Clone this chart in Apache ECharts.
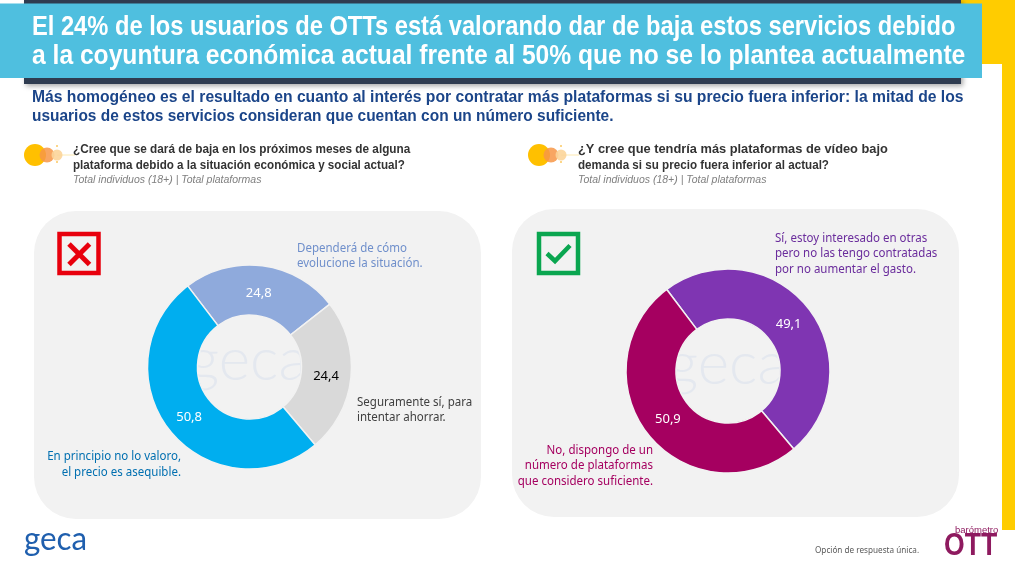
<!DOCTYPE html>
<html lang="es">
<head>
<meta charset="utf-8">
<title>Barómetro OTT</title>
<script src="https://cdn.jsdelivr.net/npm/echarts@6/dist/echarts.min.js"></script>
<style>
    html, body, #main { width: 100%; height: 100%; margin: 0; background: #fff; }
</style>
</head>
<body>
<div id="main"></div>
<script>
    var bajaNames = ['Dependerá de cómo evolucione la situación.', 'Seguramente sí, para intentar ahorrar.', 'En principio no lo valoro, el precio es asequible.'];
    var bajaValues = [24.8, 24.4, 50.8];
    var bajaColors = ['#8faadc', '#d9d9d9', '#00aeef'];
    var bajaLabelColors = ['#fff', '#000', '#fff'];

    var masNames = ['Sí, estoy interesado en otras pero no las tengo contratadas por no aumentar el gasto.', 'No, dispongo de un número de plataformas que considero suficiente.'];
    var masValues = [49.1, 50.9];
    var masColors = ['#7f35b2', '#a50060'];
    var masLabelColors = ['#fff', '#fff'];

    var font = '"Liberation Sans", Arial, sans-serif';
    var labelFont = '"Noto Sans", sans-serif';

    function makePie(names, values, colors, labelColors, labelOffsets, center, startAngle) {
        return {
            type: 'pie',
            center: center,
            radius: [52, 102],
            startAngle: startAngle,
            silent: true,
            animation: false,
            z: 5,
            itemStyle: { borderColor: '#f2f2f2', borderWidth: 1.5 },
            label: {
                position: 'inside',
                fontFamily: labelFont,
                fontSize: 13,
                formatter: function (p) { return String(p.value).replace('.', ','); }
            },
            labelLine: { show: false },
            data: names.map(function (n, i) {
                return {
                    name: n, value: values[i],
                    itemStyle: { color: colors[i] },
                    label: { color: labelColors[i], offset: labelOffsets[i] }
                };
            })
        };
    }

    // texto con ancho fijo: se comprime en horizontal con scaleX
    function txt(x, y, text, size, color, weight, scaleX, align, style) {
        return {
            type: 'text', x: x, y: y, scaleX: scaleX || 1, z: 20,
            style: {
                text: text, fill: color, fontFamily: font, fontSize: size,
                fontWeight: weight || 'normal', fontStyle: style || 'normal',
                align: align || 'left', verticalAlign: 'middle'
            }
        };
    }
    function lbl(x, y, text, color, align) {
        var t = txt(x, y, text, 12, color, 'normal', 0.96, align);
        t.style.fontFamily = labelFont;
        return t;
    }
    function box(x, y, w, h, color, r) {
        return { type: 'rect', z: 1, shape: { x: x, y: y, width: w, height: h, r: r || 0 }, style: { fill: color } };
    }
    function bulb(cx, cy) {
        return [
            { type: 'line', z: 3, shape: { x1: cx + 22, y1: cy, x2: cx + 40, y2: cy }, style: { stroke: '#fde9b0', lineWidth: 1 } },
            { type: 'circle', z: 3, shape: { cx: cx, cy: cy, r: 11 }, style: { fill: '#ffc000' } },
            { type: 'circle', z: 4, shape: { cx: cx + 12, cy: cy, r: 7.5 }, style: { fill: '#f79646', opacity: 0.85 } },
            { type: 'circle', z: 4, shape: { cx: cx + 22, cy: cy, r: 5.5 }, style: { fill: '#fcd59a', opacity: 0.9 } },
            { type: 'circle', z: 4, shape: { cx: cx + 22, cy: cy - 9, r: 1 }, style: { fill: '#fbc860' } },
            { type: 'circle', z: 4, shape: { cx: cx + 22, cy: cy + 7, r: 1 }, style: { fill: '#fbc860' } }
        ];
    }
    function watermark(x, y) {
        return {
            type: 'text', x: x, y: y, z: 2,
            style: { text: 'geca', fill: '#e4e8ef', fontFamily: 'Lato, sans-serif', fontWeight: 300, fontSize: 60, align: 'center', verticalAlign: 'middle' }
        };
    }

    var elements = [
        box(961, 0, 54, 64, '#ffcc00'),
        box(1002, 0, 13, 530, '#ffcc00'),
        { type: 'rect', z: 1, shape: { x: 24, y: 0, width: 937, height: 84 }, style: { fill: '#2f3c50', shadowBlur: 5, shadowColor: 'rgba(0,0,0,0.35)', shadowOffsetX: 2, shadowOffsetY: 2 } },
        box(0, 3.5, 982, 74.5, '#4fbfdf'),
        txt(32, 27.5, 'El 24% de los usuarios de OTTs está valorando dar de baja estos servicios debido', 27, '#fff', 'bold', 0.877),
        txt(32, 57, 'a la coyuntura económica actual frente al 50% que no se lo plantea actualmente', 27, '#fff', 'bold', 0.912),
        txt(32, 98, 'Más homogéneo es el resultado en cuanto al interés por contratar más plataformas si su precio fuera inferior: la mitad de los', 16, '#1b4589', 'bold', 0.98),
        txt(32, 117, 'usuarios de estos servicios consideran que cuentan con un número suficiente.', 16, '#1b4589', 'bold', 0.966),

        txt(73, 150, '¿Cree que se dará de baja en los próximos meses de alguna', 12, '#333', 'bold', 0.98),
        txt(73, 166, 'plataforma debido a la situación económica y social actual?', 12, '#333', 'bold', 0.97),
        txt(73, 180, 'Total individuos (18+) | Total plataformas', 10.5, '#7f7f7f', 'normal', 1, 'left', 'italic'),
        txt(578, 150, '¿Y cree que tendría más plataformas de vídeo bajo', 12, '#333', 'bold', 1.068),
        txt(578, 166, 'demanda si su precio fuera inferior al actual?', 12, '#333', 'bold', 0.97),
        txt(578, 180, 'Total individuos (18+) | Total plataformas', 10.5, '#7f7f7f', 'normal', 1, 'left', 'italic'),

        box(34, 211, 447, 308, '#f2f2f2', 42),
        box(512, 209, 447, 308, '#f2f2f2', 42),

        watermark(248, 361),
        watermark(727, 365),

        // marca X
        { type: 'rect', z: 3, shape: { x: 59.5, y: 234, width: 39, height: 39 }, style: { fill: 'none', stroke: '#e8000d', lineWidth: 4.5 } },
        { type: 'line', z: 3, shape: { x1: 69, y1: 244, x2: 89.5, y2: 264.5 }, style: { stroke: '#e8000d', lineWidth: 5 } },
        { type: 'line', z: 3, shape: { x1: 89.5, y1: 244, x2: 69, y2: 264.5 }, style: { stroke: '#e8000d', lineWidth: 5 } },
        // marca check
        { type: 'rect', z: 3, shape: { x: 539, y: 234, width: 39, height: 39 }, style: { fill: 'none', stroke: '#0aa650', lineWidth: 4.5 } },
        { type: 'polyline', z: 3, shape: { points: [[547, 253.5], [555, 261], [570, 245.5]] }, style: { stroke: '#0aa650', lineWidth: 4.5, fill: 'none' } },

        lbl(297, 248.5, 'Dependerá de cómo', '#6f8fcb'),
        lbl(297, 263.5, 'evolucione la situación.', '#6f8fcb'),
        lbl(357, 402.5, 'Seguramente sí, para', '#404040'),
        lbl(357, 418, 'intentar ahorrar.', '#404040'),
        lbl(181, 457, 'En principio no lo valoro,', '#006fb0', 'right'),
        lbl(181, 473, 'el precio es asequible.', '#006fb0', 'right'),
        lbl(775, 238.5, 'Sí, estoy interesado en otras', '#6a2c9c'),
        lbl(775, 254, 'pero no las tengo contratadas', '#6a2c9c'),
        lbl(775, 270, 'por no aumentar el gasto.', '#6a2c9c'),
        lbl(653, 451, 'No, dispongo de un', '#a50060', 'right'),
        lbl(653, 466, 'número de plataformas', '#a50060', 'right'),
        lbl(653, 482, 'que considero suficiente.', '#a50060', 'right'),

        { type: 'text', x: 24, y: 539, z: 20, scaleX: 0.95, style: { text: 'geca', fill: '#1f5fae', fontFamily: 'Lato, sans-serif', fontSize: 33, verticalAlign: 'middle' } },
        { type: 'text', x: 815, y: 550.5, z: 20, scaleX: 0.96, style: { text: 'Opción de respuesta única.', fill: '#595959', fontFamily: labelFont, fontSize: 8.5, verticalAlign: 'middle' } },
        txt(955, 530, 'barómetro', 9.5, '#8e1a5f', 'normal', 1),
        txt(944, 546, 'OTT', 32, '#8e1a5f', 'bold', 0.83)
    ].concat(bulb(35, 155), bulb(539, 155));

    var chart = echarts.init(document.getElementById('main'));
    chart.setOption({
        animation: false,
        graphic: { elements: elements },
        series: [
            makePie(bajaNames, bajaValues, bajaColors, bajaLabelColors, [[-1, 6], [-3, 1], [2, 0]], [249.5, 367], 127.3),
            makePie(masNames, masValues, masColors, masLabelColors, [[-2, 3], [2.5, -2]], [728, 371], 126.9)
        ]
    });
    window.onresize = chart.resize;
</script>
</body>
</html>
